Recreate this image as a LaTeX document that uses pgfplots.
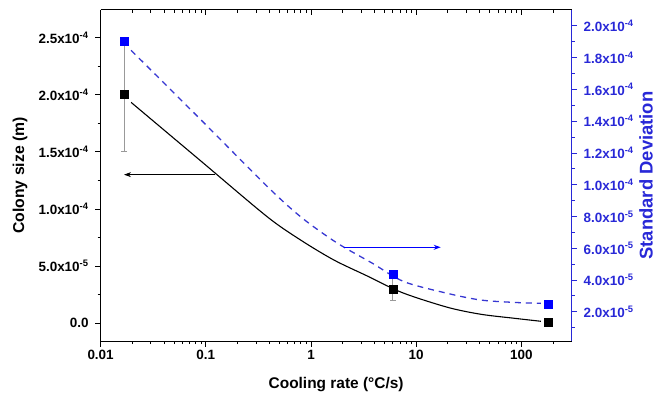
\documentclass[border=0pt]{standalone}
\usepackage{pgfplots}
\pgfplotsset{compat=1.18}
\usepackage{fontspec}
\setmainfont{Liberation Sans}
\usetikzlibrary{arrows.meta}
\definecolor{myblue}{RGB}{0,0,255}
\definecolor{axblue}{RGB}{40,40,215}
\definecolor{lineblue}{RGB}{55,55,210}
\newcommand{\sci}[2]{#1x10\textsuperscript{#2}}
\begin{document}
\begin{tikzpicture}
\useasboundingbox (0,0) rectangle (655bp,400bp);
% left axis
\begin{axis}[
  at={(100.6bp,59bp)}, anchor=south west,
  scale only axis, width=471bp, height=331bp,
  xmode=log, xmin=0.01, xmax=300,
  tick label style={font=\bfseries\fontsize{13.5}{15}\selectfont},
  yticklabel style={xshift=-3bp},
  major tick length=5.5bp, minor tick length=3bp,
  scaled y ticks=false,
  xtick={0.01,0.1,1,10,100},
  minor xtick={0.02,0.03,0.04,0.05,0.06,0.07,0.08,0.09,0.2,0.3,0.4,0.5,0.6,0.7,0.8,0.9,2,3,4,5,6,7,8,9,20,30,40,50,60,70,80,90,200},
  axis x line*=bottom, axis y line*=left,
  tick align=outside,
  axis line style={-, black, line width=1pt},
  every tick/.style={black, line width=0.8pt},
  ymin=-1.55e-5, ymax=2.74e-4,
  xticklabels={0.01,0.1,1,10,100},
  ytick={0,5e-5,1e-4,1.5e-4,2e-4,2.5e-4},
  yticklabels={0.0,\sci{5.0}{-5},\sci{1.0}{-4},\sci{1.5}{-4},\sci{2.0}{-4},\sci{2.5}{-4}},
  minor ytick={2.5e-5,7.5e-5,1.25e-4,1.75e-4,2.25e-4},
  every axis x label/.style={at={(axis description cs:0.5,0)}, anchor=center, yshift=-44bp, font=\bfseries\fontsize{15.5}{17}\selectfont},
  every axis y label/.style={at={(axis description cs:0,0.5)}, anchor=center, xshift=-80.6bp, rotate=90, font=\bfseries\fontsize{15.8}{17}\selectfont},
  xlabel={Cooling rate (°C/s)},
  ylabel={Colony size (m)},
]
\addplot[black, line width=1.1pt, smooth, no marks] coordinates {
(0.0195,1.932e-4) (0.0885,1.424e-4) (0.382,9.33e-5)
(0.794,7.29e-5) (1.645,5.54e-5) (3.42,4.14e-5) (7.37,2.68e-5)
(19.8,1.40e-5) (41,7.9e-6) (85,4.4e-6) (153,1.75e-6)};
\addplot[draw=none, mark=none, error bars/.cd, y dir=both, y explicit,
  error bar style={black!40, line width=1pt},
  error mark options={black!40, rotate=90, mark size=3bp, line width=1pt}] coordinates {
(0.0167,2.0e-4) +- (0,5e-5)
(6.0,3.0e-5) +- (0,1e-5)
(180,1e-6) +- (0,1e-6)};
\addplot[only marks, mark=square*, mark size=4bp, black] coordinates {
(0.0167,2.0e-4) (6.0,3.0e-5) (180,1e-6)};
\draw[-{Stealth[length=7bp,width=5bp]}, black, line width=0.8pt] (axis cs:0.123,1.30e-4) -- (axis cs:0.0167,1.30e-4);
\end{axis}
% right axis
\begin{axis}[
  at={(100.6bp,59bp)}, anchor=south west,
  scale only axis, width=471bp, height=331bp,
  xmode=log, xmin=0.01, xmax=300,
  tick label style={font=\bfseries\fontsize{13.5}{15}\selectfont},
  yticklabel style={text=axblue, xshift=3bp},
  major tick length=5.5bp, minor tick length=3bp,
  scaled y ticks=false,
  axis y line*=right, axis x line=none,
  tick align=outside,
  axis line style={-, axblue, line width=1pt},
  every tick/.style={axblue, line width=0.8pt},
  ymin=1.6e-6, ymax=2.10e-4,
  ytick={2e-5,4e-5,6e-5,8e-5,1e-4,1.2e-4,1.4e-4,1.6e-4,1.8e-4,2e-4},
  yticklabels={\sci{2.0}{-5},\sci{4.0}{-5},\sci{6.0}{-5},\sci{8.0}{-5},\sci{1.0}{-4},\sci{1.2}{-4},\sci{1.4}{-4},\sci{1.6}{-4},\sci{1.8}{-4},\sci{2.0}{-4}},
  minor ytick={1e-5,3e-5,5e-5,7e-5,9e-5,1.1e-4,1.3e-4,1.5e-4,1.7e-4,1.9e-4},
  every axis y label/.style={at={(axis description cs:1,0.5)}, anchor=center, xshift=74.4bp, rotate=90, text=axblue, font=\bfseries\fontsize{18.5}{20}\selectfont},
  ylabel={Standard Deviation},
]
\addplot[lineblue, line width=1.3pt, smooth, dash pattern=on 6bp off 5bp, no marks] coordinates {
(0.0195,1.846e-4) (0.0885,1.413e-4) (0.395,9.81e-5) (0.822,7.91e-5) (1.77,6.33e-5)
(3.82,5.06e-5) (7.63,3.90e-5) (19.8,3.16e-5) (41,2.74e-5) (85,2.59e-5) (153,2.53e-5)};
\addplot[only marks, mark=square*, mark size=4bp, myblue] coordinates {
(0.0167,1.905e-4) (6.0,4.37e-5) (180,2.49e-5)};
\draw[-{Stealth[length=7bp,width=5bp]}, myblue, line width=1pt] (axis cs:2.04,6.06e-5) -- (axis cs:17.1,6.06e-5);
\end{axis}
% top ticks
\begin{axis}[
  at={(100.6bp,59bp)}, anchor=south west,
  scale only axis, width=471bp, height=331bp,
  xmode=log, xmin=0.01, xmax=300,
  major tick length=5.5bp, minor tick length=3bp,
  xtick={0.01,0.1,1,10,100},
  minor xtick={0.02,0.03,0.04,0.05,0.06,0.07,0.08,0.09,0.2,0.3,0.4,0.5,0.6,0.7,0.8,0.9,2,3,4,5,6,7,8,9,20,30,40,50,60,70,80,90,200},
  axis x line*=top, axis y line=none,
  tick align=inside,
  axis line style={-, black, line width=1pt},
  every tick/.style={black, line width=0.8pt},
  ymin=0, ymax=1,
  xticklabels={},
]
\end{axis}
\end{tikzpicture}
\end{document}
